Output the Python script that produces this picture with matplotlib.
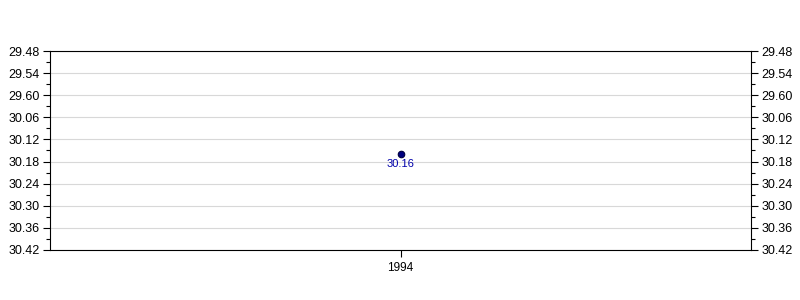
import numpy as np
import matplotlib.pyplot as plt

plt.rcParams['font.family'] = ['Liberation Sans', 'DejaVu Sans']

# data (values are read as deg.minutes style: 30.16 -> 30 + 16/60)
years = [1994]
values = [30.16]
value_labels = ['30.16']
tick_labels = ['29.48', '29.54', '29.60', '30.06', '30.12',
               '30.18', '30.24', '30.30', '30.36', '30.42']


def to_linear(v):
    d = np.floor(v)
    return d + (v - d) * 100 / 60


tick_pos = [to_linear(float(t)) for t in tick_labels]
y = [to_linear(v) for v in values]

fig = plt.figure(figsize=(8, 3), dpi=100)
ax = fig.add_axes([0.0625, 0.1667, 0.87625, 0.6633])

ax.scatter(years, y, s=22, color='#000080', edgecolor='#000040', linewidth=0.8, zorder=3)
for xx, yy, lab in zip(years, y, value_labels):
    ax.annotate(lab, (xx, yy), xytext=(0, -3.5), textcoords='offset points',
                ha='center', va='top', fontsize=8, color='#0000aa')

ax.set_xlim(years[0] - 0.5, years[0] + 0.5)
ax.set_xticks(years)
ax.set_xticklabels([str(v) for v in years], fontsize=8.5)

ax.set_ylim(tick_pos[-1], tick_pos[0])
ax.set_yticks(tick_pos)
ax.set_yticklabels(tick_labels, fontsize=9)
minor = [(a + b) / 2 for a, b in zip(tick_pos[:-1], tick_pos[1:])]
ax.set_yticks(minor, minor=True)

ax.tick_params(axis='y', which='both', left=True, right=True,
               labelleft=True, labelright=True, direction='out')
ax.tick_params(axis='y', which='major', length=5, width=0.8, pad=2.5)
ax.tick_params(axis='y', which='minor', length=3, width=0.8)
ax.tick_params(axis='x', length=5, width=0.8)

ax.grid(axis='y', which='major', color='#d8d8d8', linewidth=0.8)
ax.set_axisbelow(True)
for s in ax.spines.values():
    s.set_linewidth(0.8)

fig.savefig('out.png', dpi=100)
